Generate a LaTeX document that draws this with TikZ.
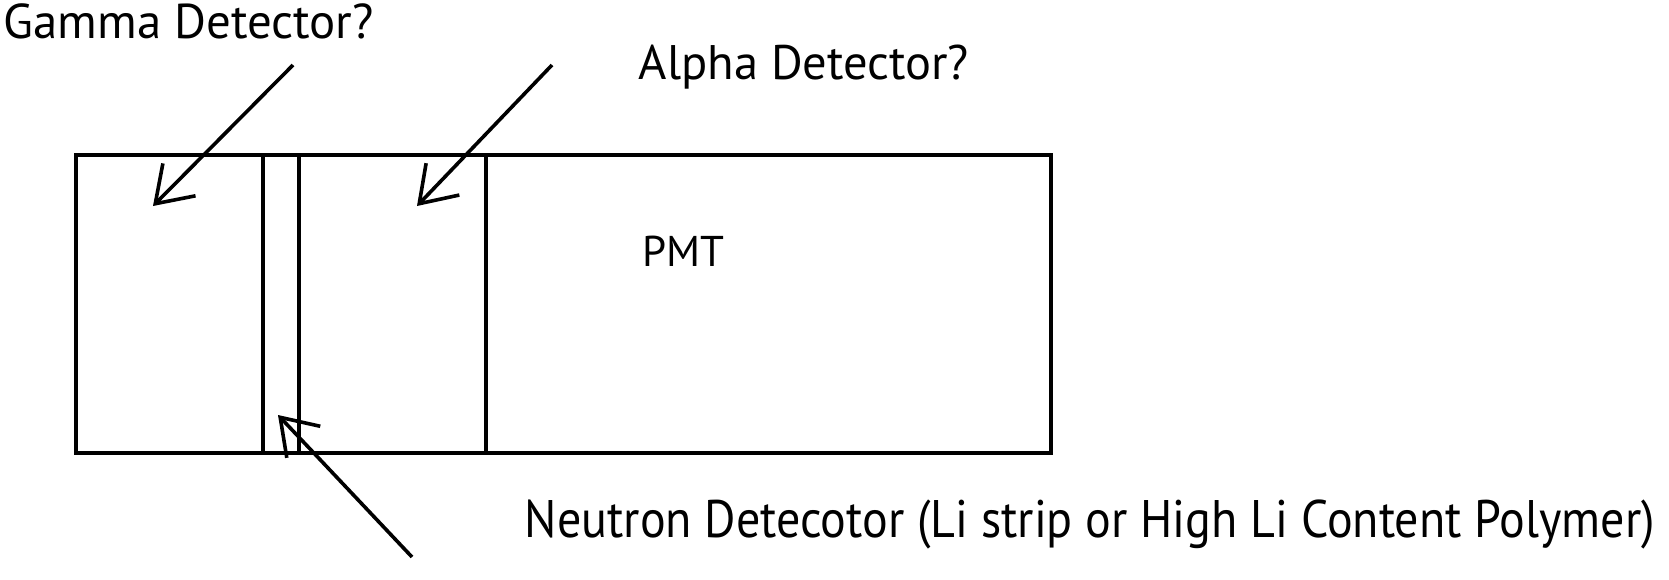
\documentclass[tikz,border=0pt]{standalone}
\usepackage{fontspec}
\setmainfont{PT Sans}
\usetikzlibrary{arrows.meta}
\begin{document}
\begin{tikzpicture}[x=1pt,y=-1pt,line width=3.6pt,
  part/.style={draw, inner sep=0pt, minimum height=298pt, anchor=north west},
  lbl/.style={inner sep=0pt, anchor=base west},
  pointer/.style={-{Straight Barb[length=34pt,width=46pt]}, line width=3.6pt}]
\useasboundingbox (0,0) rectangle (1669,579);
% detector body
\node[part, minimum width=187pt] (gam) at (74,153) {};
\node[part, minimum width=36pt] (neu) at (261,153) {};
\node[part, minimum width=187pt] (alp) at (297,153) {};
\node[part, minimum width=565pt] (pmt) at (484,153) {};
% labels
\node[lbl] (gl) at (2,38) {\resizebox{370pt}{!}{Gamma Detector?}};
\node[lbl] (al) at (637,79) {\resizebox{330pt}{!}{Alpha Detector?}};
\node[lbl] (pl) at (641,266) {\resizebox{82pt}{!}{PMT}};
\node[lbl] (nl) at (523,537) {\scalebox{1}[1.1]{\resizebox{1130pt}{!}{Neutron Detecotor (Li strip or High Li Content Polymer)}}};
% pointers
\coordinate (gs) at (293,65);  \coordinate (gt) at (153,206);
\coordinate (as) at (552,65);  \coordinate (at) at (417,206);
\coordinate (ns) at (412,557); \coordinate (nt) at (278,415);
\draw[pointer] (gs) -- (gt);
\draw[pointer] (as) -- (at);
\draw[pointer] (ns) -- (nt);
\end{tikzpicture}
\end{document}
